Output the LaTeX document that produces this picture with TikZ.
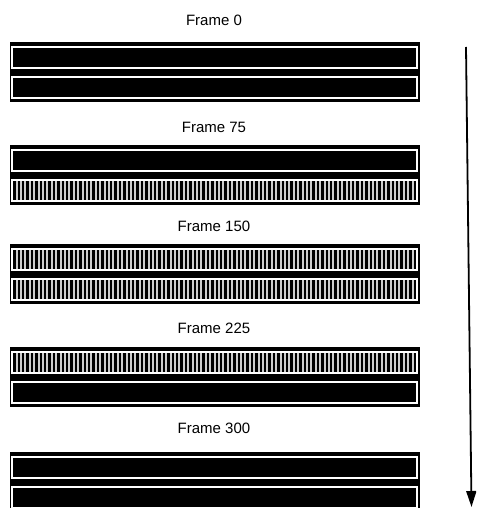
\documentclass[tikz,border=0pt]{standalone}
\usepackage{fontspec}
\setmainfont{Liberation Sans}
\usetikzlibrary{arrows.meta}
\definecolor{stripebg}{RGB}{205,205,205}
\tikzset{
  framelabel/.style={font=\fontsize{15}{18}\selectfont, inner sep=0pt, anchor=center},
  blockbg/.style={fill=black, draw=none},
  stripebar/.style={fill=stripebg, draw=none},
  barframe/.style={draw=white, line width=1.3pt},
  stripe/.style={fill=black, draw=none},
  timearrow/.style={line width=1.8pt, -{Triangle[width=10pt,length=16pt]}}
}
\newcommand\solidbarat[1]{%
  \fill[black] (12,#1) rectangle (417,#1+21);
  \draw[barframe] (12,#1) rectangle (417,#1+21);}
\newcommand\stripebarat[1]{%
  \fill[stripebar] (12,#1) rectangle (417,#1+21);
  \foreach \sx in {13.2,17.6,...,414} {\fill[stripe] (\sx,#1+1) rectangle (\sx+2.4,#1+20);}
  \draw[barframe] (12,#1) rectangle (417,#1+21);}
\begin{document}
\begin{tikzpicture}[x=1pt,y=-1pt]
\useasboundingbox (0,0) rectangle (476,508);
\clip (0,0) rectangle (476,508);
\fill[white] (0,0) rectangle (476,508);
% Frame 0
\node[framelabel] (t0) at (214,20) {Frame 0};
\fill[blockbg] (10,42) rectangle (420,102);
\solidbarat{47}
\solidbarat{77}
% Frame 75
\node[framelabel] (t75) at (214,127) {Frame 75};
\fill[blockbg] (10,145) rectangle (420,205);
\solidbarat{150}
\stripebarat{180}
% Frame 150
\node[framelabel] (t150) at (214,226) {Frame 150};
\fill[blockbg] (10,244) rectangle (420,304);
\stripebarat{249}
\stripebarat{279}
% Frame 225
\node[framelabel] (t225) at (214,328) {Frame 225};
\fill[blockbg] (10,347) rectangle (420,407);
\stripebarat{352}
\solidbarat{382}
% Frame 300
\node[framelabel] (t300) at (214,428) {Frame 300};
\fill[blockbg] (10,452) rectangle (420,512);
\solidbarat{457}
\solidbarat{487}
% time arrow
\coordinate (arrowstart) at (466,47);
\coordinate (arrowend) at (471.5,507);
\draw[timearrow] (arrowstart) -- (arrowend);
\end{tikzpicture}
\end{document}
